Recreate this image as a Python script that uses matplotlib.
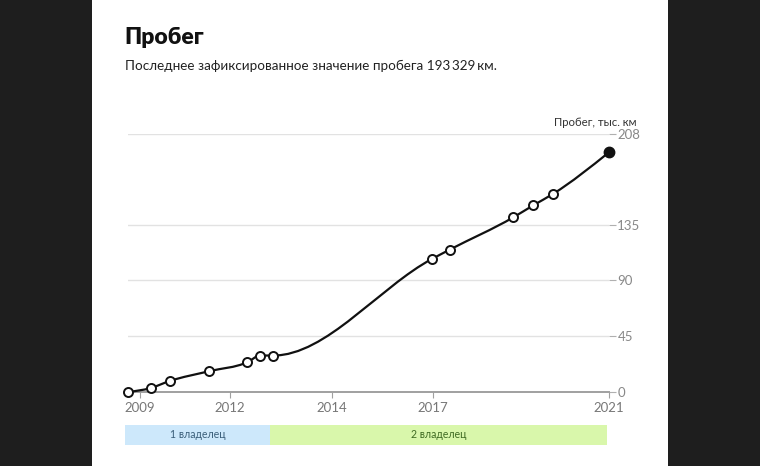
import numpy as np
import matplotlib.pyplot as plt
from matplotlib.path import Path
from matplotlib.patches import PathPatch, Rectangle

plt.rcParams['font.family'] = ['Lato', 'DejaVu Sans']

# position along the timeline (0..100, the axis is not linear in time)
pos = [0, 4.7, 8.7, 16.8, 24.8, 27.5, 30.2, 63.3, 66.9, 80.1, 84.3, 88.4, 100]
# mileage, thousand km
mileage = [0, 3.2, 8.9, 16.7, 24.0, 29.4, 29.4, 107.5, 114.8, 140.8, 150.6, 159.8, 193.3]

year_pos = [2.5, 21.2, 42.4, 63.4, 100]
year_labels = ['2009', '2012', '2014', '2017', '2021']
y_ticks = [0, 45, 90, 135, 208]

owners = ['1 владелец', '2 владелец']
owner_start = [-0.6, 29.5]
owner_end = [29.5, 99.6]
owner_colors = ['#cde8fb', '#d9f7ab']
owner_text = ['#3b5f7a', '#3f6b22']


def monotone_path(x, y):
    """Monotone cubic curve through the points, as Bezier segments."""
    x = np.asarray(x, float)
    y = np.asarray(y, float)
    h = np.diff(x)
    s = np.diff(y) / h
    t = np.zeros(len(x))
    for i in range(1, len(x) - 1):
        p = (s[i - 1] * h[i] + s[i] * h[i - 1]) / (h[i - 1] + h[i])
        t[i] = (np.sign(s[i - 1]) + np.sign(s[i])) * min(abs(s[i - 1]), abs(s[i]), 0.5 * abs(p))
    t[0] = (3 * s[0] - t[1]) / 2
    t[-1] = (3 * s[-1] - t[-2]) / 2
    verts = [(x[0], y[0])]
    codes = [Path.MOVETO]
    for i in range(len(x) - 1):
        dx = h[i] / 3
        verts += [(x[i] + dx, y[i] + dx * t[i]),
                  (x[i + 1] - dx, y[i + 1] - dx * t[i + 1]),
                  (x[i + 1], y[i + 1])]
        codes += [Path.CURVE4] * 3
    return Path(verts, codes)


W, H = 760, 466
fig = plt.figure(figsize=(W / 100, H / 100), dpi=100, facecolor='#1e1e1e')
fig.add_artist(Rectangle((92 / W, 0), (668 - 92) / W, 1, transform=fig.transFigure,
                         facecolor='white', edgecolor='none', zorder=0))

fig.text(124 / W, 1 - 38 / H, 'Пробег', fontsize=16.5, fontweight='heavy',
         color='#111111', va='center', ha='left')
fig.text(125 / W, 1 - 66 / H, 'Последнее зафиксированное значение пробега 193\u2009329\u2009км.',
         fontsize=9.7, color='#222222', va='center', ha='left')

ax = fig.add_axes([128 / W, (H - 392) / H, 481 / W, 258 / H])
ax.set_facecolor('none')
ax.set_xlim(0, 100)
ax.set_ylim(0, 208)

for v in y_ticks[1:]:
    ax.axhline(v, color='#e2e2e2', lw=1, zorder=1)

ax.add_patch(PathPatch(monotone_path(pos, mileage), facecolor='none',
                       edgecolor='#111111', lw=1.6, zorder=3, clip_on=False))
ax.plot(pos[:-1], mileage[:-1], 'o', ms=6.5, mfc='white', mec='#111111', mew=1.4,
        zorder=4, clip_on=False)
ax.plot(pos[-1:], mileage[-1:], 'o', ms=7.5, mfc='#111111', mec='#111111',
        zorder=4, clip_on=False)

for side in ['top', 'left', 'right']:
    ax.spines[side].set_visible(False)
ax.spines['bottom'].set_color('#a0a0a0')
ax.spines['bottom'].set_linewidth(1.4)
ax.spines['bottom'].set_zorder(2)

ax.set_xticks(year_pos)
ax.set_xticklabels(year_labels)
ax.tick_params(axis='x', direction='out', length=4, color='#a0a0a0', pad=3,
               labelsize=9.5, labelcolor='#777777')
ax.yaxis.tick_right()
ax.set_yticks(y_ticks)
ax.tick_params(axis='y', direction='out', length=5, color='#b0b0b0', pad=1,
               labelsize=9.5, labelcolor='#888888')

fig.text(637 / W, 1 - 123 / H, 'Пробег, тыс. км', fontsize=8.2, color='#333333',
         ha='right', va='center')

# owner strip
sx = fig.add_axes([128 / W, (H - 445) / H, 481 / W, 20 / H])
sx.set_xlim(0, 100)
sx.set_ylim(0, 1)
sx.axis('off')
for name, a, b, c, tc in zip(owners, owner_start, owner_end, owner_colors, owner_text):
    sx.barh(0.5, b - a, left=a, height=1, color=c, clip_on=False)
    sx.text((a + b) / 2, 0.5, name, ha='center', va='center', fontsize=7.6, color=tc)

fig.savefig('out.png', dpi=100, facecolor=fig.get_facecolor())
